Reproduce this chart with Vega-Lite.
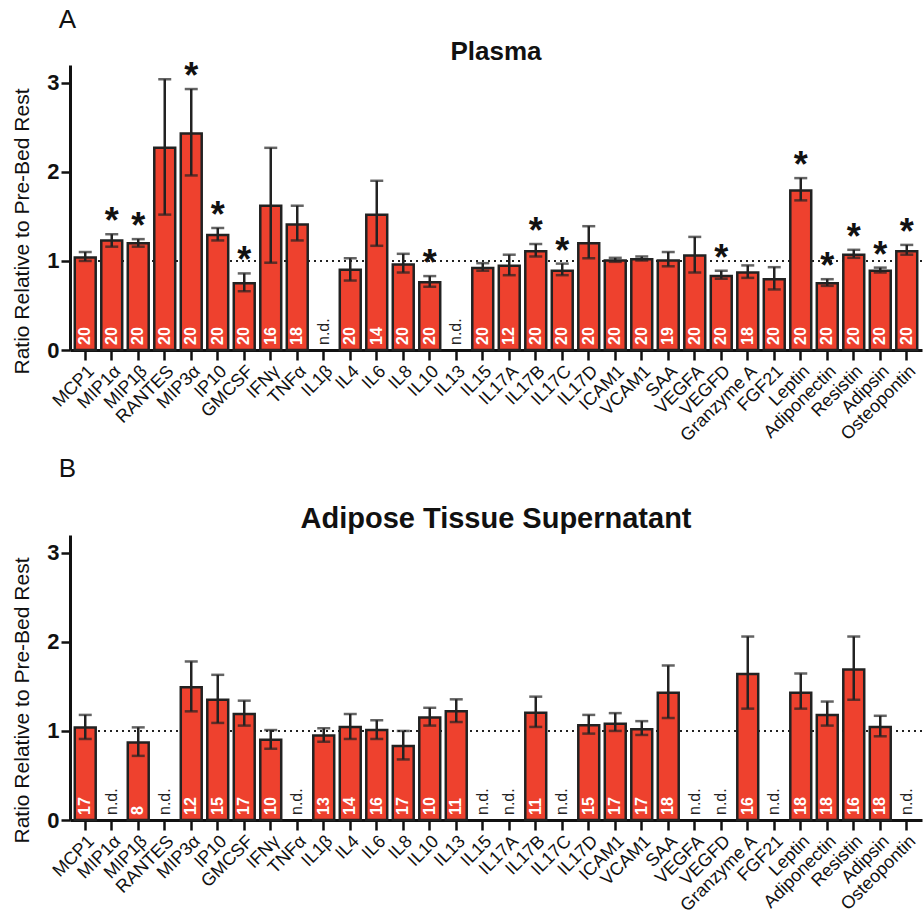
{
  "$schema": "https://vega.github.io/schema/vega-lite/v6.json",
  "background": "white",
  "padding": {"left": 11, "top": 7, "right": 0, "bottom": 0},
  "spacing": 10,
  "config": {
    "font": "Liberation Sans",
    "view": {"stroke": null},
    "axis": {"domainColor": "#111", "domainWidth": 3, "tickColor": "#111", "tickWidth": 2.5, "labelColor": "#111", "titleColor": "#111", "grid": false, "labelFont": "Liberation Sans", "titleFont": "Liberation Sans"},
    "axisX": {"tickSize": 10, "labelAngle": -45, "labelFontSize": 18, "labelPadding": 2, "title": null},
    "axisY": {"tickSize": 9, "labelFontSize": 22, "labelFontWeight": "bold", "labelPadding": 2, "titleFontSize": 21, "titleFontWeight": "normal", "titlePadding": 14},
    "title": {"font": "Liberation Sans", "color": "#111"}
  },
  "datasets": {
    "plasma": [
      {"name": "MCP1", "mean": 1.04, "lo": 1.0, "hi": 1.1, "n": 20, "sig": false, "nd": false},
      {"name": "MIP1α", "mean": 1.23, "lo": 1.16, "hi": 1.3, "n": 20, "sig": true, "nd": false},
      {"name": "MIP1β", "mean": 1.2, "lo": 1.16, "hi": 1.245, "n": 20, "sig": true, "nd": false},
      {"name": "RANTES", "mean": 2.27, "lo": 1.52, "hi": 3.04, "n": 20, "sig": false, "nd": false},
      {"name": "MIP3α", "mean": 2.43, "lo": 1.96, "hi": 2.93, "n": 20, "sig": true, "nd": false},
      {"name": "IP10", "mean": 1.29, "lo": 1.23, "hi": 1.37, "n": 20, "sig": true, "nd": false},
      {"name": "GMCSF", "mean": 0.75, "lo": 0.66, "hi": 0.86, "n": 20, "sig": true, "nd": false},
      {"name": "IFNγ", "mean": 1.62, "lo": 0.98, "hi": 2.27, "n": 16, "sig": false, "nd": false},
      {"name": "TNFα", "mean": 1.41, "lo": 1.23, "hi": 1.62, "n": 18, "sig": false, "nd": false},
      {"name": "IL1β", "mean": null, "lo": null, "hi": null, "n": null, "sig": false, "nd": true},
      {"name": "IL4", "mean": 0.9, "lo": 0.78, "hi": 1.03, "n": 20, "sig": false, "nd": false},
      {"name": "IL6", "mean": 1.52, "lo": 1.17, "hi": 1.9, "n": 14, "sig": false, "nd": false},
      {"name": "IL8", "mean": 0.96, "lo": 0.87, "hi": 1.08, "n": 20, "sig": false, "nd": false},
      {"name": "IL10", "mean": 0.76, "lo": 0.71, "hi": 0.83, "n": 20, "sig": true, "nd": false},
      {"name": "IL13", "mean": null, "lo": null, "hi": null, "n": null, "sig": false, "nd": true},
      {"name": "IL15", "mean": 0.92, "lo": 0.89, "hi": 0.975, "n": 20, "sig": false, "nd": false},
      {"name": "IL17A", "mean": 0.945, "lo": 0.84, "hi": 1.07, "n": 12, "sig": false, "nd": false},
      {"name": "IL17B", "mean": 1.11, "lo": 1.05, "hi": 1.19, "n": 20, "sig": true, "nd": false},
      {"name": "IL17C", "mean": 0.89, "lo": 0.84, "hi": 0.97, "n": 20, "sig": true, "nd": false},
      {"name": "IL17D", "mean": 1.2, "lo": 1.03, "hi": 1.39, "n": 20, "sig": false, "nd": false},
      {"name": "ICAM1", "mean": 1.005, "lo": 0.99, "hi": 1.035, "n": 20, "sig": false, "nd": false},
      {"name": "VCAM1", "mean": 1.02, "lo": 1.005, "hi": 1.05, "n": 20, "sig": false, "nd": false},
      {"name": "SAA", "mean": 1.005, "lo": 0.94, "hi": 1.1, "n": 19, "sig": false, "nd": false},
      {"name": "VEGFA", "mean": 1.06, "lo": 0.87, "hi": 1.27, "n": 20, "sig": false, "nd": false},
      {"name": "VEGFD", "mean": 0.83, "lo": 0.8, "hi": 0.89, "n": 20, "sig": true, "nd": false},
      {"name": "Granzyme A", "mean": 0.87, "lo": 0.81, "hi": 0.95, "n": 18, "sig": false, "nd": false},
      {"name": "FGF21", "mean": 0.795, "lo": 0.68, "hi": 0.93, "n": 20, "sig": false, "nd": false},
      {"name": "Leptin", "mean": 1.79, "lo": 1.68, "hi": 1.93, "n": 20, "sig": true, "nd": false},
      {"name": "Adiponectin", "mean": 0.75, "lo": 0.72, "hi": 0.795, "n": 20, "sig": true, "nd": false},
      {"name": "Resistin", "mean": 1.07, "lo": 1.035, "hi": 1.125, "n": 20, "sig": true, "nd": false},
      {"name": "Adipsin", "mean": 0.89, "lo": 0.87, "hi": 0.925, "n": 20, "sig": true, "nd": false},
      {"name": "Osteopontin", "mean": 1.11, "lo": 1.07, "hi": 1.18, "n": 20, "sig": true, "nd": false}
    ],
    "adipose": [
      {"name": "MCP1", "mean": 1.04, "lo": 0.91, "hi": 1.18, "n": 17, "sig": false, "nd": false},
      {"name": "MIP1α", "mean": null, "lo": null, "hi": null, "n": null, "sig": false, "nd": true},
      {"name": "MIP1β", "mean": 0.87, "lo": 0.72, "hi": 1.04, "n": 8, "sig": false, "nd": false},
      {"name": "RANTES", "mean": null, "lo": null, "hi": null, "n": null, "sig": false, "nd": true},
      {"name": "MIP3α", "mean": 1.49, "lo": 1.22, "hi": 1.78, "n": 12, "sig": false, "nd": false},
      {"name": "IP10", "mean": 1.35, "lo": 1.09, "hi": 1.63, "n": 15, "sig": false, "nd": false},
      {"name": "GMCSF", "mean": 1.19, "lo": 1.06, "hi": 1.34, "n": 17, "sig": false, "nd": false},
      {"name": "IFNγ", "mean": 0.9, "lo": 0.8, "hi": 1.01, "n": 10, "sig": false, "nd": false},
      {"name": "TNFα", "mean": null, "lo": null, "hi": null, "n": null, "sig": false, "nd": true},
      {"name": "IL1β", "mean": 0.95, "lo": 0.88, "hi": 1.03, "n": 13, "sig": false, "nd": false},
      {"name": "IL4", "mean": 1.045, "lo": 0.91, "hi": 1.19, "n": 14, "sig": false, "nd": false},
      {"name": "IL6", "mean": 1.01, "lo": 0.91, "hi": 1.12, "n": 16, "sig": false, "nd": false},
      {"name": "IL8", "mean": 0.83, "lo": 0.68, "hi": 1.0, "n": 17, "sig": false, "nd": false},
      {"name": "IL10", "mean": 1.15, "lo": 1.06, "hi": 1.26, "n": 10, "sig": false, "nd": false},
      {"name": "IL13", "mean": 1.22, "lo": 1.1, "hi": 1.355, "n": 11, "sig": false, "nd": false},
      {"name": "IL15", "mean": null, "lo": null, "hi": null, "n": null, "sig": false, "nd": true},
      {"name": "IL17A", "mean": null, "lo": null, "hi": null, "n": null, "sig": false, "nd": true},
      {"name": "IL17B", "mean": 1.205, "lo": 1.045, "hi": 1.385, "n": 11, "sig": false, "nd": false},
      {"name": "IL17C", "mean": null, "lo": null, "hi": null, "n": null, "sig": false, "nd": true},
      {"name": "IL17D", "mean": 1.063, "lo": 0.97, "hi": 1.18, "n": 15, "sig": false, "nd": false},
      {"name": "ICAM1", "mean": 1.08, "lo": 1.0, "hi": 1.2, "n": 17, "sig": false, "nd": false},
      {"name": "VCAM1", "mean": 1.02, "lo": 0.955, "hi": 1.11, "n": 17, "sig": false, "nd": false},
      {"name": "SAA", "mean": 1.43, "lo": 1.145, "hi": 1.735, "n": 18, "sig": false, "nd": false},
      {"name": "VEGFA", "mean": null, "lo": null, "hi": null, "n": null, "sig": false, "nd": true},
      {"name": "VEGFD", "mean": null, "lo": null, "hi": null, "n": null, "sig": false, "nd": true},
      {"name": "Granzyme A", "mean": 1.64, "lo": 1.25, "hi": 2.06, "n": 16, "sig": false, "nd": false},
      {"name": "FGF21", "mean": null, "lo": null, "hi": null, "n": null, "sig": false, "nd": true},
      {"name": "Leptin", "mean": 1.43, "lo": 1.25, "hi": 1.645, "n": 18, "sig": false, "nd": false},
      {"name": "Adiponectin", "mean": 1.18, "lo": 1.06, "hi": 1.33, "n": 18, "sig": false, "nd": false},
      {"name": "Resistin", "mean": 1.69, "lo": 1.35, "hi": 2.06, "n": 16, "sig": false, "nd": false},
      {"name": "Adipsin", "mean": 1.045, "lo": 0.94, "hi": 1.17, "n": 18, "sig": false, "nd": false},
      {"name": "Osteopontin", "mean": null, "lo": null, "hi": null, "n": null, "sig": false, "nd": true}
    ]
  },
  "vconcat": [
    {
      "title": {"text": "A", "anchor": "start", "fontSize": 26, "fontWeight": "normal", "dx": 47, "offset": 6},
      "vconcat": [
        {
          "width": 852,
          "height": 285,
          "data": {"name": "plasma"},
          "title": {"text": "Plasma", "fontSize": 26, "fontWeight": "bold", "offset": -6},
          "encoding": {
            "x": {"field": "name", "type": "nominal", "scale": {"domain": ["MCP1","MIP1α","MIP1β","RANTES","MIP3α","IP10","GMCSF","IFNγ","TNFα","IL1β","IL4","IL6","IL8","IL10","IL13","IL15","IL17A","IL17B","IL17C","IL17D","ICAM1","VCAM1","SAA","VEGFA","VEGFD","Granzyme A","FGF21","Leptin","Adiponectin","Resistin","Adipsin","Osteopontin"], "paddingInner": 0.21, "paddingOuter": 0.18}}
          },
          "layer": [
            {"mark": {"type": "rule", "color": "#222", "strokeWidth": 2, "strokeDash": [2, 4]}, "encoding": {"x": null, "y": {"datum": 1, "type": "quantitative", "scale": {"domain": [0, 3.2], "nice": false}, "axis": {"values": [0, 1, 2, 3], "format": "d", "titleY": 166, "title": "Ratio Relative to Pre-Bed Rest"}}}},
            {"mark": {"type": "bar", "color": "#ee412e", "stroke": "#222", "strokeWidth": 2.5}, "encoding": {"y": {"field": "mean", "type": "quantitative", "title": "Ratio Relative to Pre-Bed Rest"}}},
            {"mark": {"type": "rule", "color": "#222", "strokeWidth": 2.5}, "encoding": {"y": {"field": "lo", "type": "quantitative", "title": "Ratio Relative to Pre-Bed Rest"}, "y2": {"field": "hi"}}},
            {"mark": {"type": "tick", "color": "#222", "size": 13, "thickness": 2.5}, "encoding": {"y": {"field": "lo", "type": "quantitative", "title": "Ratio Relative to Pre-Bed Rest"}}},
            {"mark": {"type": "tick", "color": "#222", "size": 13, "thickness": 2.5}, "encoding": {"y": {"field": "hi", "type": "quantitative", "title": "Ratio Relative to Pre-Bed Rest"}}},
            {"transform": [{"filter": "!datum.nd"}], "mark": {"type": "text", "angle": 270, "align": "left", "baseline": "middle", "dx": 5, "color": "white", "fontSize": 16, "fontWeight": "bold"}, "encoding": {"y": {"datum": 0, "type": "quantitative", "title": "Ratio Relative to Pre-Bed Rest"}, "text": {"field": "n"}}},
            {"transform": [{"filter": "datum.nd"}], "mark": {"type": "text", "angle": 270, "align": "left", "baseline": "middle", "dx": 5, "color": "#222", "fontSize": 16}, "encoding": {"y": {"datum": 0, "type": "quantitative", "title": "Ratio Relative to Pre-Bed Rest"}, "text": {"value": "n.d."}}},
            {"transform": [{"filter": "datum.sig"}], "mark": {"type": "text", "baseline": "alphabetic", "dy": -1, "color": "#111", "fontSize": 36, "fontWeight": "bold"}, "encoding": {"y": {"field": "hi", "type": "quantitative", "title": "Ratio Relative to Pre-Bed Rest"}, "text": {"value": "*"}}}
          ]
        }
      ]
    },
    {
      "title": {"text": "B", "anchor": "start", "fontSize": 26, "fontWeight": "normal", "dx": 47, "offset": 23},
      "vconcat": [
        {
          "width": 852,
          "height": 285,
          "data": {"name": "adipose"},
          "title": {"text": "Adipose Tissue Supernatant", "fontSize": 29, "fontWeight": "bold", "offset": 1},
          "encoding": {
            "x": {"field": "name", "type": "nominal", "scale": {"domain": ["MCP1","MIP1α","MIP1β","RANTES","MIP3α","IP10","GMCSF","IFNγ","TNFα","IL1β","IL4","IL6","IL8","IL10","IL13","IL15","IL17A","IL17B","IL17C","IL17D","ICAM1","VCAM1","SAA","VEGFA","VEGFD","Granzyme A","FGF21","Leptin","Adiponectin","Resistin","Adipsin","Osteopontin"], "paddingInner": 0.21, "paddingOuter": 0.18}}
          },
          "layer": [
            {"mark": {"type": "rule", "color": "#222", "strokeWidth": 2, "strokeDash": [2, 4]}, "encoding": {"x": null, "y": {"datum": 1, "type": "quantitative", "scale": {"domain": [0, 3.2], "nice": false}, "axis": {"values": [0, 1, 2, 3], "format": "d", "titleY": 165, "title": "Ratio Relative to Pre-Bed Rest"}}}},
            {"mark": {"type": "bar", "color": "#ee412e", "stroke": "#222", "strokeWidth": 2.5}, "encoding": {"y": {"field": "mean", "type": "quantitative", "title": "Ratio Relative to Pre-Bed Rest"}}},
            {"mark": {"type": "rule", "color": "#222", "strokeWidth": 2.5}, "encoding": {"y": {"field": "lo", "type": "quantitative", "title": "Ratio Relative to Pre-Bed Rest"}, "y2": {"field": "hi"}}},
            {"mark": {"type": "tick", "color": "#222", "size": 13, "thickness": 2.5}, "encoding": {"y": {"field": "lo", "type": "quantitative", "title": "Ratio Relative to Pre-Bed Rest"}}},
            {"mark": {"type": "tick", "color": "#222", "size": 13, "thickness": 2.5}, "encoding": {"y": {"field": "hi", "type": "quantitative", "title": "Ratio Relative to Pre-Bed Rest"}}},
            {"transform": [{"filter": "!datum.nd"}], "mark": {"type": "text", "angle": 270, "align": "left", "baseline": "middle", "dx": 5, "color": "white", "fontSize": 16, "fontWeight": "bold"}, "encoding": {"y": {"datum": 0, "type": "quantitative", "title": "Ratio Relative to Pre-Bed Rest"}, "text": {"field": "n"}}},
            {"transform": [{"filter": "datum.nd"}], "mark": {"type": "text", "angle": 270, "align": "left", "baseline": "middle", "dx": 5, "color": "#222", "fontSize": 16}, "encoding": {"y": {"datum": 0, "type": "quantitative", "title": "Ratio Relative to Pre-Bed Rest"}, "text": {"value": "n.d."}}}
          ]
        }
      ]
    }
  ]
}
